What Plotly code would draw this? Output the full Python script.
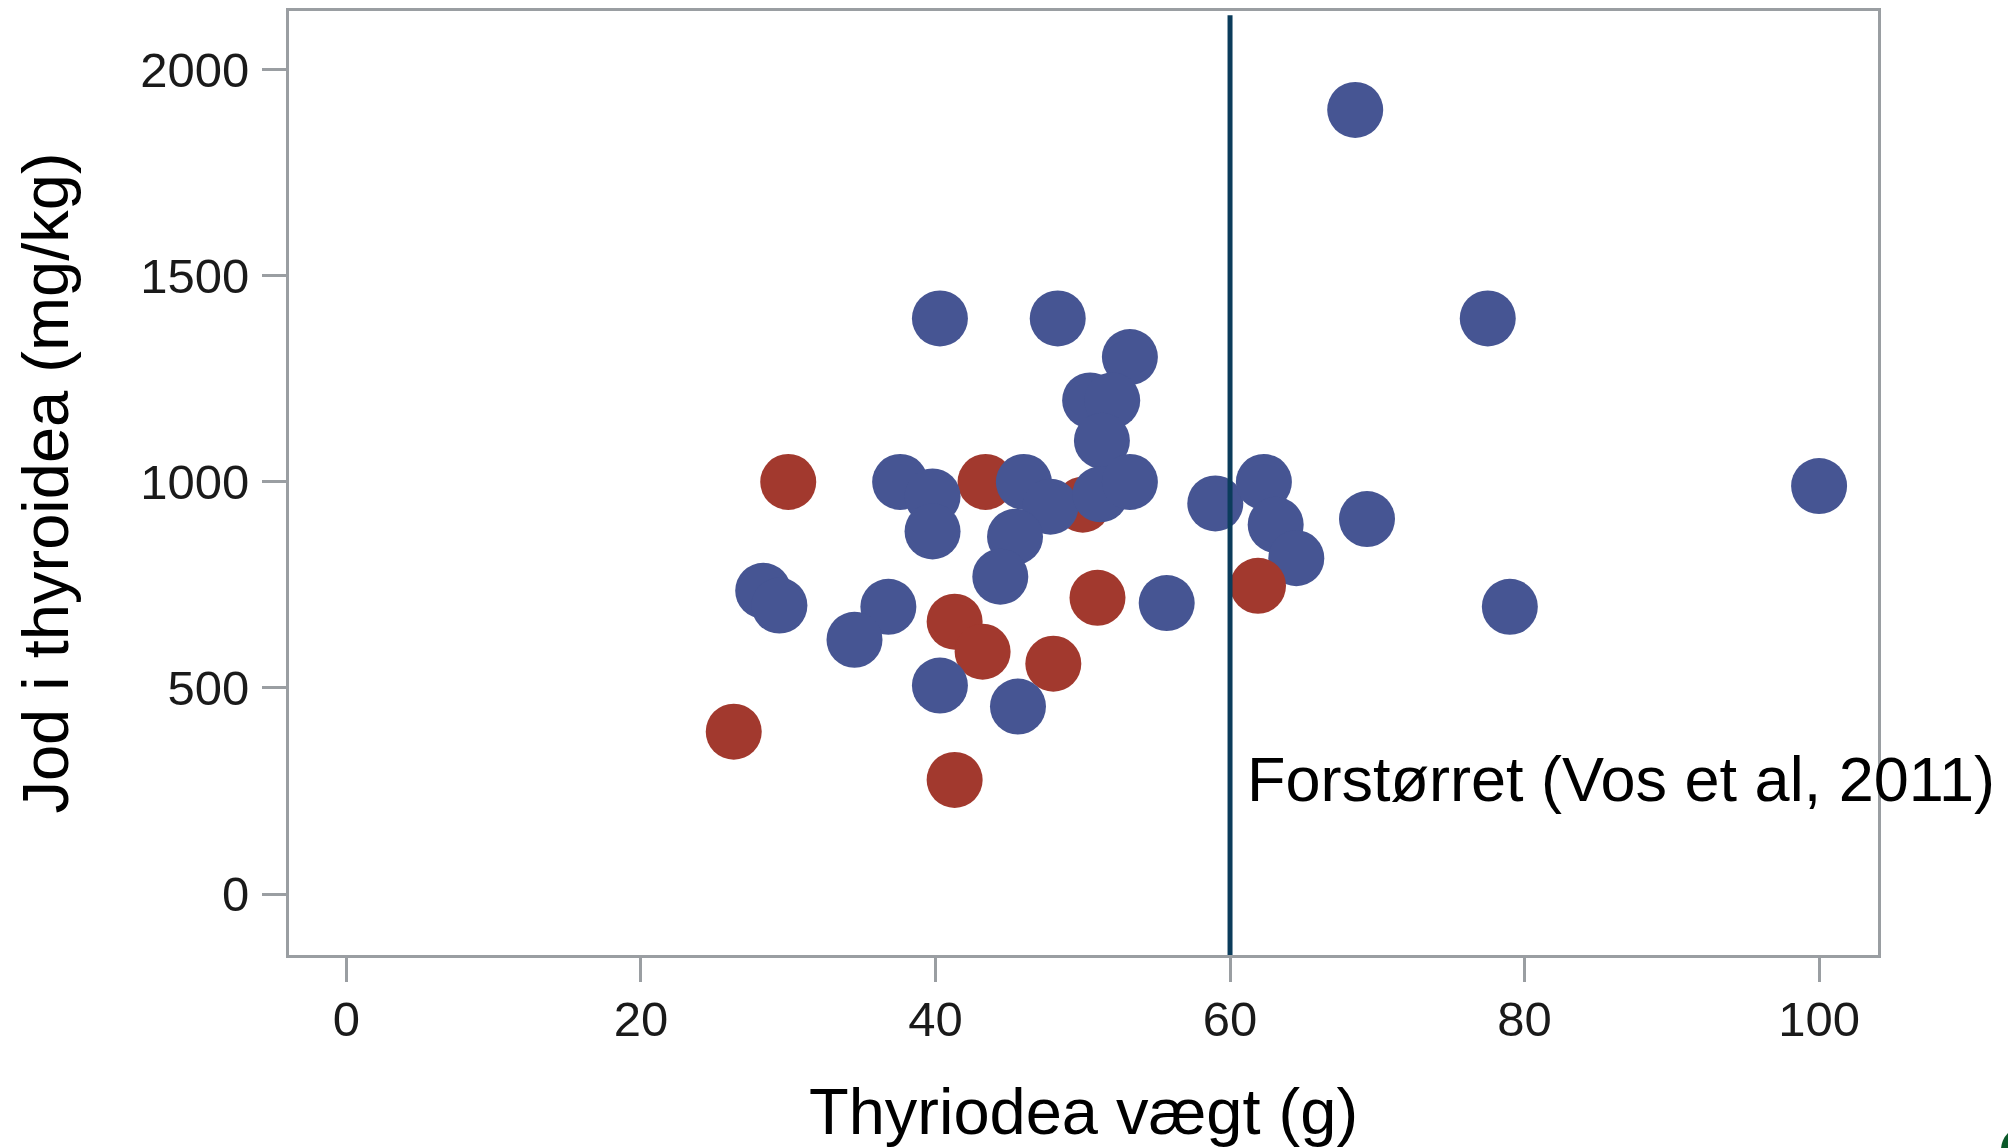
import plotly.graph_objects as go

# Data (draw order matters for overlaps)
weight_g = [43.4, 50.0, 30.0, 41.3, 43.2, 51.0, 48.0, 26.3, 41.3,
            68.5, 40.3, 48.3, 77.5, 53.2, 50.5, 52.0, 51.3, 37.6, 39.8, 39.8,
            46.0, 47.8, 51.2, 53.2, 45.4, 44.4, 28.3, 29.4, 36.8, 34.5, 40.3,
            45.6, 55.7, 59.0, 62.3, 63.1, 64.5, 69.3, 79.0, 100.0,
            61.9]
iodine_mgkg = [1000, 945, 1000, 661, 588, 719, 559, 394, 277,
               1903, 1397, 1397, 1397, 1303, 1198, 1198, 1100, 1000, 965, 880,
               1000, 940, 970, 1000, 867, 770, 736, 700, 697, 617, 506,
               455, 706, 948, 1000, 896, 815, 910, 697, 990,
               748]
group = ["red"] * 9 + ["blue"] * 31 + ["red"]

group_colors = {"blue": "#465593", "red": "#A2392E"}

x_ticks = [0, 20, 40, 60, 80, 100]
y_ticks = [0, 500, 1000, 1500, 2000]
threshold_g = 60
threshold_label = "Forstørret (Vos et al, 2011)"

FONT = "Arial, 'Liberation Sans', sans-serif"

fig = go.Figure()
fig.add_trace(go.Scatter(
    x=weight_g, y=iodine_mgkg, mode="markers",
    marker=dict(size=56, color=[group_colors[g] for g in group], line=dict(width=0)),
    showlegend=False, cliponaxis=False,
))

fig.add_shape(type="line", xref="x", yref="paper", x0=threshold_g, x1=threshold_g,
              y0=0, y1=0.9955, line=dict(color="#0B3C5B", width=5))

fig.add_annotation(x=61.0, y=278, xref="x", yref="y", text=threshold_label,
                   showarrow=False, xanchor="left", yanchor="middle",
                   font=dict(family=FONT, size=63, color="#000000"))

# small green mark at the bottom-right corner of the slide
fig.add_shape(type="circle", xref="paper", yref="paper",
              x0=1.0774, x1=1.1076, y0=-0.2318, y1=-0.181,
              fillcolor="#0B5A2A", line=dict(width=0))

axis_common = dict(
    showgrid=False, zeroline=False, showline=True, mirror=True,
    linecolor="#9A9EA2", linewidth=3,
    ticks="outside", ticklen=24, tickwidth=3, tickcolor="#9A9EA2",
    tickfont=dict(family=FONT, size=49, color="#1A1A1A"),
)

fig.update_xaxes(range=[-3.9, 104.0], tickvals=x_ticks, ticklabelstandoff=-5,
                 title=dict(text="Thyriodea vægt (g)", standoff=45,
                            font=dict(family=FONT, size=65, color="#000000")),
                 **axis_common)
fig.update_yaxes(range=[-148, 2143], tickvals=y_ticks, ticklabelstandoff=3,
                 title=dict(text="Jod i thyroidea (mg/kg)", standoff=51,
                            font=dict(family=FONT, size=65, color="#000000")),
                 **axis_common)

fig.update_layout(
    width=2008, height=1148,
    margin=dict(l=289, r=130, t=11, b=193, autoexpand=False),
    plot_bgcolor="white", paper_bgcolor="white",
    font=dict(family=FONT),
)

fig.write_html("out.html",
               config={"displayModeBar": False},
               post_script="document.body.style.margin='0';document.body.style.overflow='hidden';")
